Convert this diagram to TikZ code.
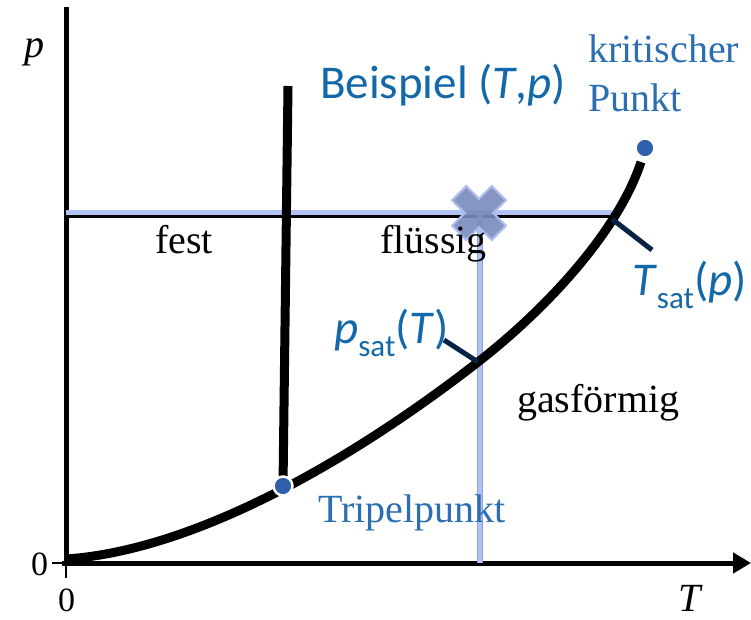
\documentclass[tikz,border=0pt]{standalone}
\usepackage{fontspec}
\setmainfont{Liberation Serif}
\newfontfamily\calib{Carlito}
\usetikzlibrary{arrows.meta}
\definecolor{sansblue}{RGB}{18,104,168}
\definecolor{serifblue}{RGB}{44,110,178}
\definecolor{dotblue}{RGB}{46,96,172}
\definecolor{lineblue}{RGB}{178,194,245}
\definecolor{lineblueedge}{RGB}{140,160,222}
\definecolor{navy}{RGB}{8,34,70}
\definecolor{crossfill}{RGB}{122,138,188}
\definecolor{crossedge}{RGB}{172,188,236}
\tikzset{
  serif/.style={font=\fontsize{40}{44}\selectfont, inner sep=0pt, anchor=base west},
  sanslbl/.style={font=\calib\fontsize{47}{50}\selectfont, inner sep=0pt, anchor=base west, text=sansblue},
  axisline/.style={line width=5pt, black},
  thick curve/.style={line width=9pt, black},
  leader/.style={line width=5pt, navy},
  isoline/.style={line width=5pt, lineblue},
  bluedot/.style={circle, fill=dotblue, draw=white, line width=2.5pt, inner sep=0pt, minimum size=19pt},
}
\newcommand{\sat}{\raisebox{-0.28em}{\fontsize{31}{32}\selectfont sat}}
\begin{document}
\begin{tikzpicture}[x=1pt,y=-1pt]
\useasboundingbox (0,0) rectangle (751,620);
% coordinates
\coordinate (O) at (66,563);
\coordinate (ytop) at (66,7);
\coordinate (xstart) at (62,563);
\coordinate (xend) at (751,563);
\coordinate (tl) at (52,563);
\coordinate (tb) at (66,578);
\coordinate (curveStart) at (66,559);
\coordinate (curveMid) at (478,362);
\coordinate (curveEnd) at (641,162);
\coordinate (meltTop) at (288,86);
\coordinate (TP) at (283,486);
\coordinate (CP) at (645,148);
\coordinate (hstart) at (66,213);
\coordinate (hend) at (612,213);
\coordinate (hbstart) at (66,216.5);
\coordinate (hbend) at (612,216.5);
\coordinate (X) at (479,213);
\coordinate (vbot) at (480,563);
\coordinate (vtop) at (480,213);
\coordinate (ps1) at (444,340);
\coordinate (ps2) at (478,362);
\coordinate (ts1) at (612,219);
\coordinate (ts2) at (652,250);

% axes
\draw[axisline] (O) -- (ytop);
\draw[axisline, -{Triangle[length=18pt,width=20pt]}] (xstart) -- (xend);
\draw[line width=1.5pt] (tl) -- (O) -- (tb);

% isobar (black under light blue)
\draw[line width=3.5pt, black] (hbstart) -- (hbend);
\draw[isoline] (hstart) -- (hend);

% vertical isotherm
\draw[line width=6pt, lineblueedge] (vtop) -- (vbot);
\draw[line width=4pt, lineblue] (vtop) -- (vbot);

% saturation curve
\draw[thick curve] (curveStart) .. controls (200,550) and (360,454) .. (curveMid)
   .. controls (545,310) and (618,232) .. (curveEnd);
% melting line
\draw[thick curve] (TP) -- (meltTop);

% leader lines
\draw[leader] (ps1) -- (ps2);
\draw[leader] (ts1) -- (ts2);

% cross
\begin{scope}[shift={(X)}, rotate=45]
\filldraw[fill=crossfill, fill opacity=0.9, draw=crossedge, line width=2pt]
 (10,28) -- (10,10) -- (28,10) -- (28,-10) -- (10,-10) -- (10,-28) -- (-10,-28) -- (-10,-10) -- (-28,-10) -- (-28,10) -- (-10,10) -- (-10,28) -- cycle;
\end{scope}

% dots
\node[bluedot] (tpdot) at (TP) {};
\node[bluedot] (cpdot) at (CP) {};

% labels
\node[serif, font=\itshape\fontsize{40}{44}\selectfont] (plabel) at (24,58) {p};
\node[serif, font=\itshape\fontsize{40}{44}\selectfont] (Tlabel) at (678,611) {T};
\node[serif, font=\fontsize{34}{38}\selectfont] (zeroL) at (31,575) {0};
\node[serif, font=\fontsize{34}{38}\selectfont] (zeroB) at (58,611) {0};
\node[sanslbl] (beispiel) at (320,99) {Beispiel (\textit{T},\textit{p})};
\node[serif, text=serifblue] (krit) at (588,63) {kritischer};
\node[serif, text=serifblue] (punkt) at (588,112) {Punkt};
\node[serif] (fest) at (155,253) {fest};
\node[serif] (fluessig) at (380,253) {flüssig};
\node[serif] (gas) at (517,412) {gasförmig};
\node[serif, text=serifblue] (tripel) at (318,522) {Tripelpunkt};
\node[sanslbl] (psat) at (334,343) {\textit{p}\sat(\textit{T})};
\node[sanslbl] (tsat) at (632,295) {\textit{T}\sat(\textit{p})};
\end{tikzpicture}
\end{document}
